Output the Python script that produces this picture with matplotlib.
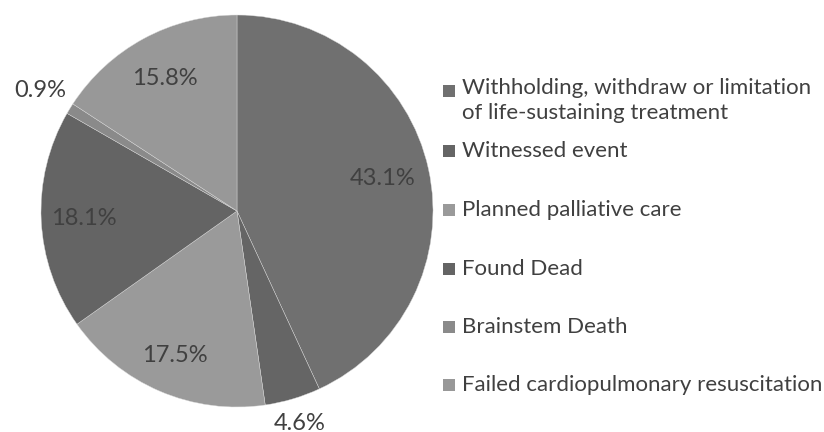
import numpy as np
import matplotlib.pyplot as plt
from matplotlib.patches import Rectangle

# ==========================================
# Data
# ==========================================
categories = [
    'Withholding, withdraw or limitation\nof life-sustaining treatment',
    'Witnessed event',
    'Planned palliative care',
    'Found Dead',
    'Brainstem Death',
    'Failed cardiopulmonary resuscitation',
]
shares = [43.1, 4.6, 17.5, 18.1, 0.9, 15.8]

colors = ['#707070', '#656565', '#9a9a9a', '#646464', '#8a8a8a', '#989898']
# label distance from centre (fraction of radius), per slice
label_dist = [0.76, 1.13, 0.80, 0.78, 1.18, 0.77]

plt.rcParams['font.family'] = ['Lato', 'DejaVu Sans']
text_color = '#404040'
fs_pct = 17
fs_leg = 16

W, H = 824, 432
fig = plt.figure(figsize=(W / 100, H / 100), dpi=100)

# pie centre / radius in pixels
cx, cy, r = 237, 211, 196
ax = fig.add_axes([(cx - r) / W, (H - cy - r) / H, 2 * r / W, 2 * r / H])

wedges, _ = ax.pie(shares, colors=colors, startangle=90, counterclock=False,
                   radius=1, wedgeprops=dict(edgecolor='#d8d8d8', linewidth=0.3))
ax.set_xlim(-1, 1)
ax.set_ylim(-1, 1)
ax.axis('off')

for w, val, d in zip(wedges, shares, label_dist):
    ang = np.deg2rad((w.theta1 + w.theta2) / 2)
    ax.text(d * np.cos(ang), d * np.sin(ang), f'{val:.1f}%',
            ha='center', va='center', fontsize=fs_pct, color=text_color,
            clip_on=False)

# legend drawn by hand to follow the original spacing
legend_y = [91, 151, 210, 269, 327, 385]
sq = 12
for cat, col, y in zip(categories, colors, legend_y):
    fig.patches.append(Rectangle((443 / W, (H - y - sq / 2) / H), sq / W, sq / H,
                                 transform=fig.transFigure, facecolor=col,
                                 edgecolor='none'))
    if '\n' in cat:
        fig.text(462 / W, (H - y + 13) / H, cat, ha='left', va='top',
                 fontsize=fs_leg, color=text_color, linespacing=1.3)
    else:
        fig.text(462 / W, (H - y) / H, cat, ha='left', va='center',
                 fontsize=fs_leg, color=text_color)

fig.savefig('out.png', dpi=100)
